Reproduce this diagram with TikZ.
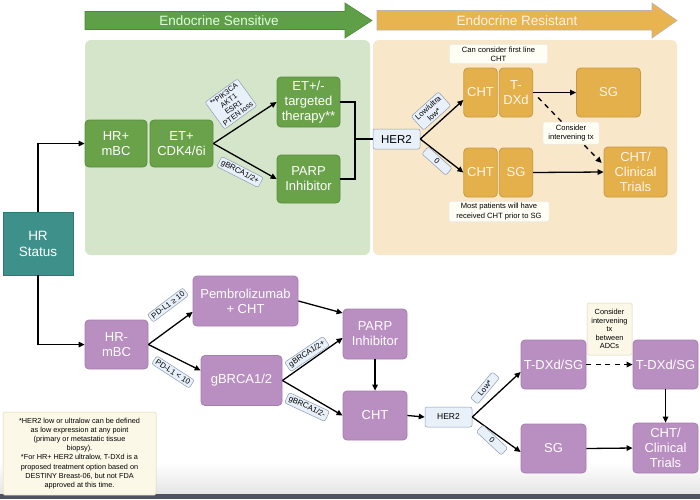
\documentclass[tikz,border=0pt]{standalone}
\usepackage{fontspec}
\setmainfont{Liberation Sans}
\usetikzlibrary{arrows.meta,shapes.geometric}
\definecolor{gboxc}{HTML}{6AA24A}
\definecolor{gboxd}{HTML}{5A8E3E}
\definecolor{gpanel}{HTML}{D4E5CA}
\definecolor{oboxc}{HTML}{E4B04C}
\definecolor{oboxd}{HTML}{C99A40}
\definecolor{opanel}{HTML}{F8E7C8}
\definecolor{pboxc}{HTML}{B98EC1}
\definecolor{pboxd}{HTML}{A57DAE}
\definecolor{tealc}{HTML}{3E918A}
\definecolor{teald}{HTML}{2E7A73}
\definecolor{labf}{HTML}{E8F0FA}
\definecolor{labd}{HTML}{8E9CB2}
\definecolor{garrow}{HTML}{5E9F48}
\definecolor{garrowd}{HTML}{4C8A3A}
\definecolor{oarrow}{HTML}{E8B450}
\definecolor{oarrowd}{HTML}{B8B4B0}
\definecolor{notef}{HTML}{FCF8E8}
\definecolor{noted}{HTML}{DDD3B2}
\definecolor{barc}{HTML}{4E5262}
\tikzset{
  box/.style={rounded corners=4pt, inner sep=0pt, align=center, text=white, font=\fontsize{13}{15}\selectfont, line width=0.8pt},
  gb/.style={box, fill=gboxc, draw=gboxd},
  ob/.style={box, fill=oboxc, draw=oboxd, text=white!92!orange},
  pb/.style={box, fill=pboxc, draw=pboxd},
  lab/.style={fill=labf, draw=labd, rounded corners=2pt, inner xsep=2.5pt, inner ysep=2pt, font=\fontsize{7.8}{8.8}\selectfont, align=center, line width=0.5pt},
  note/.style={fill=notef, draw=noted, rounded corners=1.5pt, inner sep=1pt, font=\fontsize{7.6}{9.1}\selectfont, align=center, line width=0.5pt},
  arr/.style={-{Triangle[length=6pt,width=5.5pt]}, line width=1.3pt, black},
  ln/.style={line width=1.3pt, black},
  dsh/.style={arr, dash pattern=on 5pt off 4.5pt}
}
\begin{document}
\begin{tikzpicture}[x=1pt,y=-1pt]
\useasboundingbox (0,0) rectangle (700,499);
\fill[white] (0,0) rectangle (700,499);
\shade[top color=white, bottom color=black!10] (0,462) rectangle (700,494);
\fill[barc] (0,494) rectangle (700,499);

% header arrows
\fill[garrow, draw=garrowd, line width=0.6pt] (85,11.5) -- (345,11.5) -- (345,3) -- (372,20.5) -- (345,38) -- (345,29.5) -- (85,29.5) -- cycle;
\node[text=white!88!green, font=\fontsize{13.5}{15}\selectfont] (hs) at (219,20.5) {Endocrine Sensitive};
\fill[oarrow, draw=oarrowd, line width=0.6pt] (377,10.5) -- (652,10.5) -- (652,3) -- (677,20.5) -- (652,38) -- (652,30) -- (377,30) -- cycle;
\node[text=white!90!orange, font=\fontsize{13.5}{15}\selectfont] (hr) at (517,20.5) {Endocrine Resistant};

% panels
\fill[gpanel, rounded corners=6pt] (85,40) rectangle (370,255);
\fill[opanel, rounded corners=6pt] (373,40) rectangle (677,255);

% HR status
\node[box, fill=tealc, draw=teald, rounded corners=0pt, minimum width=70, minimum height=63, font=\fontsize{13.5}{16}\selectfont] (hrs) at (38,243.5) {HR\\Status};

% top (HR+)
\node[gb, minimum width=62, minimum height=47] (hrp) at (116,143.5) {HR+\\mBC};
\node[gb, minimum width=63, minimum height=47] (etc) at (181.5,143.5) {ET+\\CDK4/6i};
\node[gb, minimum width=63, minimum height=50] (ett) at (308.5,102) {ET+/-\\targeted\\therapy**};
\node[gb, minimum width=63, minimum height=48] (pa1) at (308.5,179) {PARP\\Inhibitor};
\node[lab, minimum width=47, minimum height=20, inner sep=0pt, font=\fontsize{11.5}{13}\selectfont] (h2a) at (396.5,139) {HER2};
\coordinate (jn) at (355,139);

\draw[arr] (hrs.north) |- (hrp.west);
\draw[arr] (etc.east) -- (ett.west);
\draw[arr] (etc.east) -- (pa1.west);
\node[lab, rotate=36, font=\fontsize{7.4}{8}\selectfont] (l1) at (231,104) {**PIK3CA\\AKT1\\ESR1\\PTEN loss};
\node[lab, rotate=-27] (l2) at (240,172) {gBRCA1/2+};
\draw[ln] (ett.east) -| (jn);
\draw[ln] (pa1.east) -| (jn);
\draw[ln] (jn) -- (h2a.west);

\node[ob, minimum width=33.5, minimum height=49] (ch1) at (480.5,92.5) {CHT};
\node[ob, minimum width=33.5, minimum height=49] (td1) at (516,92.5) {T-\\DXd};
\node[ob, minimum width=64, minimum height=49] (sg1) at (608.5,92.5) {SG};
\node[ob, minimum width=33.5, minimum height=49] (ch2) at (480.5,172.5) {CHT};
\node[ob, minimum width=33.5, minimum height=49] (sg2) at (516,172.5) {SG};
\node[ob, minimum width=63, minimum height=50] (ct1) at (635.5,172) {CHT/\\Clinical\\Trials};
\node[note, fill=white!96!yellow, draw=black!8, minimum width=98, minimum height=19] (n1) at (498.5,54) {Can consider first line\\CHT};
\node[note, fill=white!96!yellow, draw=black!8, minimum width=100, minimum height=20] (n2) at (499,211.5) {Most patients will have\\received CHT prior to SG};

\draw[arr] (h2a.east) -- ([yshift=-7.5pt]ch1.west);
\draw[arr] (h2a.east) -- (ch2.west);
\node[lab, rotate=42] (l3) at (431,111) {Low/ultra\\low*};
\node[lab, rotate=-42, minimum width=32] (l4) at (437,161) {0};
\draw[arr] (td1.east) -- (sg1.west);
\draw[arr] (sg2.east) -- (ct1.west);
\draw[dsh] ([xshift=5pt,yshift=-5pt]td1.east) -- ([xshift=-2pt,yshift=9pt]ct1.west);
\node[note, fill=white!96!yellow, draw=black!8, minimum width=56, minimum height=22] (n3) at (571,133) {Consider\\intervening tx};

% bottom (HR-)
\node[pb, minimum width=63, minimum height=49] (hrn) at (116.5,344.5) {HR-\\mBC};
\draw[arr] (hrs.south) |- (hrn.west);
\node[pb, minimum width=105, minimum height=50] (pem) at (245.5,301) {Pembrolizumab\\+ CHT};
\node[pb, minimum width=81, minimum height=50] (gb) at (241.5,380.5) {gBRCA1/2};
\node[pb, minimum width=64, minimum height=50] (pa2) at (375,334) {PARP\\Inhibitor};
\node[pb, minimum width=64, minimum height=49] (ch3) at (375,415.5) {CHT};
\node[lab, minimum width=47, minimum height=20, inner sep=0pt, font=\fontsize{8.5}{10}\selectfont] (h2b) at (448.5,417) {HER2};
\node[pb, minimum width=65, minimum height=49] (td2) at (553.5,364.5) {T-DXd/SG};
\node[pb, minimum width=65, minimum height=49] (sg3) at (553.5,448.5) {SG};
\node[pb, minimum width=65, minimum height=49] (td3) at (665.5,364.5) {T-DXd/SG};
\node[pb, minimum width=65, minimum height=50] (ct2) at (665.5,448) {CHT/\\Clinical\\Trials};

\draw[arr] (hrn.east) -- ([yshift=-11pt]pem.west);
\draw[arr] (hrn.east) -- ([yshift=10pt]gb.west);
\node[lab, rotate=37] (l5) at (168,305) {PD-L1 ≥ 10};
\node[lab, rotate=-33] (l6) at (173,372) {PD-L1 < 10};
\draw[arr] (pem.east) -- ([yshift=21pt]pa2.west);
\draw[arr] (gb.east) -- ([yshift=-4pt]pa2.west);
\draw[arr] (gb.east) -- (ch3.west);
\node[lab, rotate=34] (l7) at (307,354) {gBRCA1/2+};
\node[lab, rotate=-25] (l8) at (307,407) {gBRCA1/2-};
\draw[arr] (pa2.south) -- (ch3.north);
\draw[arr] (ch3.east) -- (h2b.west);
\draw[arr] (h2b.east) -- ([yshift=-7.5pt]td2.west);
\draw[arr] (h2b.east) -- ([yshift=-3.5pt]sg3.west);
\node[lab, rotate=50, minimum width=34] (l9) at (485,388) {Low*};
\node[lab, rotate=-43, minimum width=34] (l10) at (492,440) {0};
\draw[dsh] (td2.east) -- (td3.west);
\draw[arr] (td3.south) -- (ct2.north);
\draw[arr] (sg3.east) -- (ct2.west);
\node[note, minimum width=45, minimum height=52, font=\fontsize{7.4}{8.6}\selectfont] (n4) at (609.5,329) {Consider\\intervening\\tx\\between\\ADCs};

% footnote
\node[note, minimum width=153, minimum height=83, font=\fontsize{7.3}{9.1}\selectfont] (fn) at (79.5,453.5) {*HER2 low or ultralow can be defined\\as low expression at any point\\(primary or metastatic tissue\\biopsy).\\*For HR+ HER2 ultralow, T-DXd is a\\proposed treatment option based on\\DESTINY Breast-06, but not FDA\\approved at this time.};
\end{tikzpicture}
\end{document}
